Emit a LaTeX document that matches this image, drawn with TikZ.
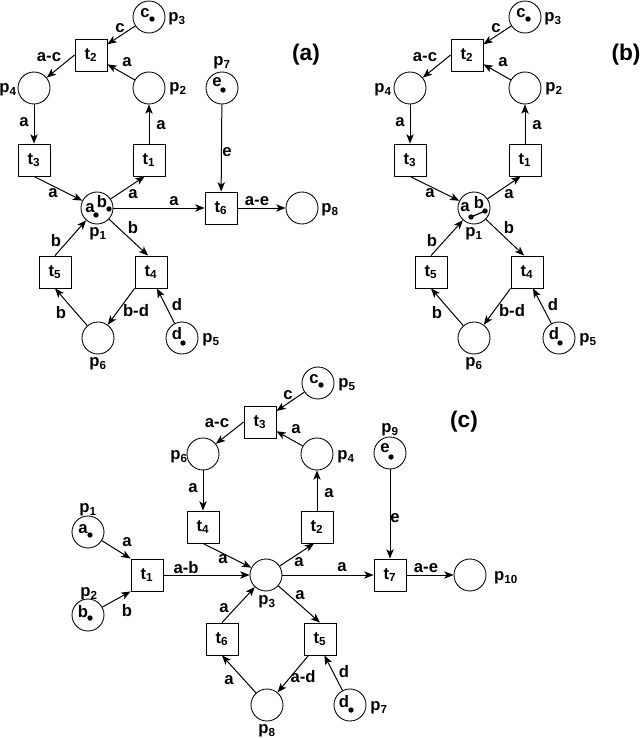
\documentclass[tikz,border=0pt]{standalone}
\usepackage{fontspec}
\setmainfont{Liberation Sans}
\usetikzlibrary{arrows.meta,calc}
\newcommand\nsub[2]{#1\textsubscript{#2}}
\tikzset{
  place/.style={circle,draw,minimum size=24pt,inner sep=0pt,line width=0.65pt},
  trans/.style={rectangle,draw,minimum size=24pt,inner sep=0pt,line width=0.65pt,font=\fontsize{12.5}{14}\bfseries\selectfont},
  lbl/.style={inner sep=0pt,font=\fontsize{12.5}{14}\bfseries\selectfont},
  tit/.style={inner sep=0pt,font=\fontsize{17}{20}\bfseries\selectfont},
  arr/.style={-{Stealth[length=7pt,width=5.5pt,inset=1.8pt]},line width=0.75pt},
  tok/.style={radius=2.7}
}
\begin{document}
\begin{tikzpicture}[x=0.75pt,y=-0.75pt]
\useasboundingbox (0,0) rectangle (640,738);
% ================= (a)
\node[tit] at (306,55) {(a)};
\node[place] (ap3) at (149,17) {};
\node[trans] (at2) at (91,55) {\nsub{t}{2}};
\node[place] (ap4) at (34,88) {};
\node[place] (ap2) at (149,88) {};
\node[place] (ap7) at (222,88) {};
\node[trans] (at3) at (34,160) {\nsub{t}{3}};
\node[trans] (at1) at (149,160) {\nsub{t}{1}};
\node[place] (ap1) at (97,208) {};
\node[trans] (at6) at (221,208) {\nsub{t}{6}};
\node[place] (ap8) at (302,208) {};
\node[trans] (at5) at (55,272) {\nsub{t}{5}};
\node[trans] (at4) at (151,272) {\nsub{t}{4}};
\node[place] (ap6) at (98,338) {};
\node[place] (ap5) at (182,338) {};
% place labels
\node[lbl] at (177,19) {\nsub{p}{3}};
\node[lbl] at (8,90) {\nsub{p}{4}};
\node[lbl] at (178,89) {\nsub{p}{2}};
\node[lbl] at (222,63) {\nsub{p}{7}};
\node[lbl] at (98,234) {\nsub{p}{1}};
\node[lbl] at (330,210) {\nsub{p}{8}};
\node[lbl] at (98,364) {\nsub{p}{6}};
\node[lbl] at (211,340) {\nsub{p}{5}};
% tokens
\node[lbl] at (145,13) {c}; \fill (152,19) circle[tok];
\node[lbl] at (217,82) {e}; \fill (223,90) circle[tok];
\node[lbl] at (177,334) {d}; \fill (183,343) circle[tok];
\node[lbl] at (90,208) {a}; \fill (96,215) circle[tok];
\node[lbl] at (102,202) {b}; \fill (109,209) circle[tok];
% arcs
\draw[arr] (ap3) -- (at2) node[lbl] at (120,28) {c};
\draw[arr] (at2.west) -- (ap4) node[lbl] at (49,57) {a-c};
\draw[arr] (ap2) -- (at2) node[lbl] at (127,62) {a};
\draw[arr] (ap4) -- (at3) node[lbl] at (24,122) {a};
\draw[arr] (at1) -- (ap2) node[lbl] at (161,125) {a};
\draw[arr] (ap7) -- (at6) node[lbl] at (227,152) {e};
\draw[arr] (at3.south) -- (ap1) node[lbl] at (53,193) {a};
\draw[arr] (ap1) -- (at1.-105) node[lbl] at (133,194) {a};
\draw[arr] (ap1) -- (at6) node[lbl] at (174,201) {a};
\draw[arr] (at6) -- (ap8) node[lbl] at (257,201) {a-e};
\draw[arr] (at5.north) -- (ap1) node[lbl] at (56,241) {b};
\draw[arr] (ap1) -- (at4.100) node[lbl] at (133,228) {b};
\draw[arr] (ap6) -- (at5.south) node[lbl] at (61,313) {b};
\draw[arr] (at4.south west) -- (ap6) node[lbl] at (136,311) {b-d};
\draw[arr] (ap5) -- (at4.-70) node[lbl] at (177,305) {d};
% ================= (b)
\node[tit] at (626,55) {(b)};
\node[place] (bp3) at (525,17) {};
\node[trans] (bt2) at (467,55) {\nsub{t}{2}};
\node[place] (bp4) at (410,88) {};
\node[place] (bp2) at (525,88) {};
\node[trans] (bt3) at (410,160) {\nsub{t}{3}};
\node[trans] (bt1) at (525,160) {\nsub{t}{1}};
\node[place] (bp1) at (474,208) {};
\node[trans] (bt5) at (431,272) {\nsub{t}{5}};
\node[trans] (bt4) at (527,272) {\nsub{t}{4}};
\node[place] (bp6) at (474,338) {};
\node[place] (bp5) at (559,338) {};
\node[lbl] at (553,19) {\nsub{p}{3}};
\node[lbl] at (383,90) {\nsub{p}{4}};
\node[lbl] at (554,89) {\nsub{p}{2}};
\node[lbl] at (474,234) {\nsub{p}{1}};
\node[lbl] at (474,364) {\nsub{p}{6}};
\node[lbl] at (588,340) {\nsub{p}{5}};
\node[lbl] at (521,13) {c}; \fill (528,19) circle[tok];
\node[lbl] at (554,334) {d}; \fill (560,343) circle[tok];
\node[lbl] at (465,207) {a};
\node[lbl] at (479,203) {b};
\draw[line width=0.9pt] (471,217) -- (485,211);
\fill (471,217) circle[tok];
\fill (485,211) circle[tok];
\draw[arr] (bp3) -- (bt2) node[lbl] at (496,28) {c};
\draw[arr] (bt2.west) -- (bp4) node[lbl] at (425,57) {a-c};
\draw[arr] (bp2) -- (bt2) node[lbl] at (503,62) {a};
\draw[arr] (bp4) -- (bt3) node[lbl] at (400,122) {a};
\draw[arr] (bt1) -- (bp2) node[lbl] at (537,125) {a};
\draw[arr] (bt3.south) -- (bp1) node[lbl] at (430,193) {a};
\draw[arr] (bp1) -- (bt1.-105) node[lbl] at (509,194) {a};
\draw[arr] (bt5.north) -- (bp1) node[lbl] at (432,241) {b};
\draw[arr] (bp1) -- (bt4.100) node[lbl] at (509,228) {b};
\draw[arr] (bp6) -- (bt5.south) node[lbl] at (437,313) {b};
\draw[arr] (bt4.south west) -- (bp6) node[lbl] at (512,311) {b-d};
\draw[arr] (bp5) -- (bt4.-70) node[lbl] at (553,305) {d};
% ================= (c)
\node[tit] at (464,422) {(c)};
\node[place] (cp5) at (318,383) {};
\node[trans] (ct3) at (260,422) {\nsub{t}{3}};
\node[place] (cp6) at (203,454) {};
\node[place] (cp4) at (317,454) {};
\node[place] (cp9) at (390,453) {};
\node[trans] (ct4) at (203,527) {\nsub{t}{4}};
\node[trans] (ct2) at (317,527) {\nsub{t}{2}};
\node[place] (cp1) at (88,532) {};
\node[trans] (ct1) at (147,575) {\nsub{t}{1}};
\node[place] (cp3) at (266,575) {};
\node[trans] (ct7) at (390,575) {\nsub{t}{7}};
\node[place] (cp10) at (470,575) {};
\node[place] (cp2) at (88,615) {};
\node[trans] (ct6) at (222,639) {\nsub{t}{6}};
\node[trans] (ct5) at (320,639) {\nsub{t}{5}};
\node[place] (cp8) at (267,705) {};
\node[place] (cp7) at (350,705) {};
\node[lbl] at (347,385) {\nsub{p}{5}};
\node[lbl] at (179,457) {\nsub{p}{6}};
\node[lbl] at (346,457) {\nsub{p}{4}};
\node[lbl] at (390,430) {\nsub{p}{9}};
\node[lbl] at (88,510) {\nsub{p}{1}};
\node[lbl] at (89,594) {\nsub{p}{2}};
\node[lbl] at (267,602) {\nsub{p}{3}};
\node[lbl] at (506,578) {\nsub{p}{10}};
\node[lbl] at (267,731) {\nsub{p}{8}};
\node[lbl] at (379,708) {\nsub{p}{7}};
\node[lbl] at (314,379) {c}; \fill (321,385) circle[tok];
\node[lbl] at (385,448) {e}; \fill (391,457) circle[tok];
\node[lbl] at (83,529) {a}; \fill (90,535) circle[tok];
\node[lbl] at (83,612) {b}; \fill (90,618) circle[tok];
\node[lbl] at (344,702) {d}; \fill (351,710) circle[tok];
\draw[arr] (cp5) -- (ct3) node[lbl] at (288,395) {c};
\draw[arr] (ct3.west) -- (cp6) node[lbl] at (217,423) {a-c};
\draw[arr] (cp4) -- (ct3) node[lbl] at (296,429) {a};
\draw[arr] (cp6) -- (ct4) node[lbl] at (193,488) {a};
\draw[arr] (ct2) -- (cp4) node[lbl] at (329,493) {a};
\draw[arr] (cp9) -- (ct7) node[lbl] at (395,518) {e};
\draw[arr] (ct4.south) -- (cp3) node[lbl] at (223,559) {a};
\draw[arr] (cp3) -- (ct2.-100) node[lbl] at (299,562) {a};
\draw[arr] (cp1) -- (ct1.north west) node[lbl] at (127,542) {a};
\draw[arr] (cp2) -- (ct1.south west) node[lbl] at (127,611) {b};
\draw[arr] (ct1) -- (cp3) node[lbl] at (186,568) {a-b};
\draw[arr] (cp3) -- (ct7) node[lbl] at (342,567) {a};
\draw[arr] (ct7) -- (cp10) node[lbl] at (426,568) {a-e};
\draw[arr] (ct6.north) -- (cp3) node[lbl] at (224,608) {a};
\draw[arr] (cp3) -- (ct5.north) node[lbl] at (300,595) {a};
\draw[arr] (cp8) -- (ct6.south) node[lbl] at (229,680) {a};
\draw[arr] (ct5.-125) -- (cp8) node[lbl] at (303,677) {a-d};
\draw[arr] (cp7) -- (ct5.-75) node[lbl] at (344,672) {d};
\end{tikzpicture}
\end{document}
